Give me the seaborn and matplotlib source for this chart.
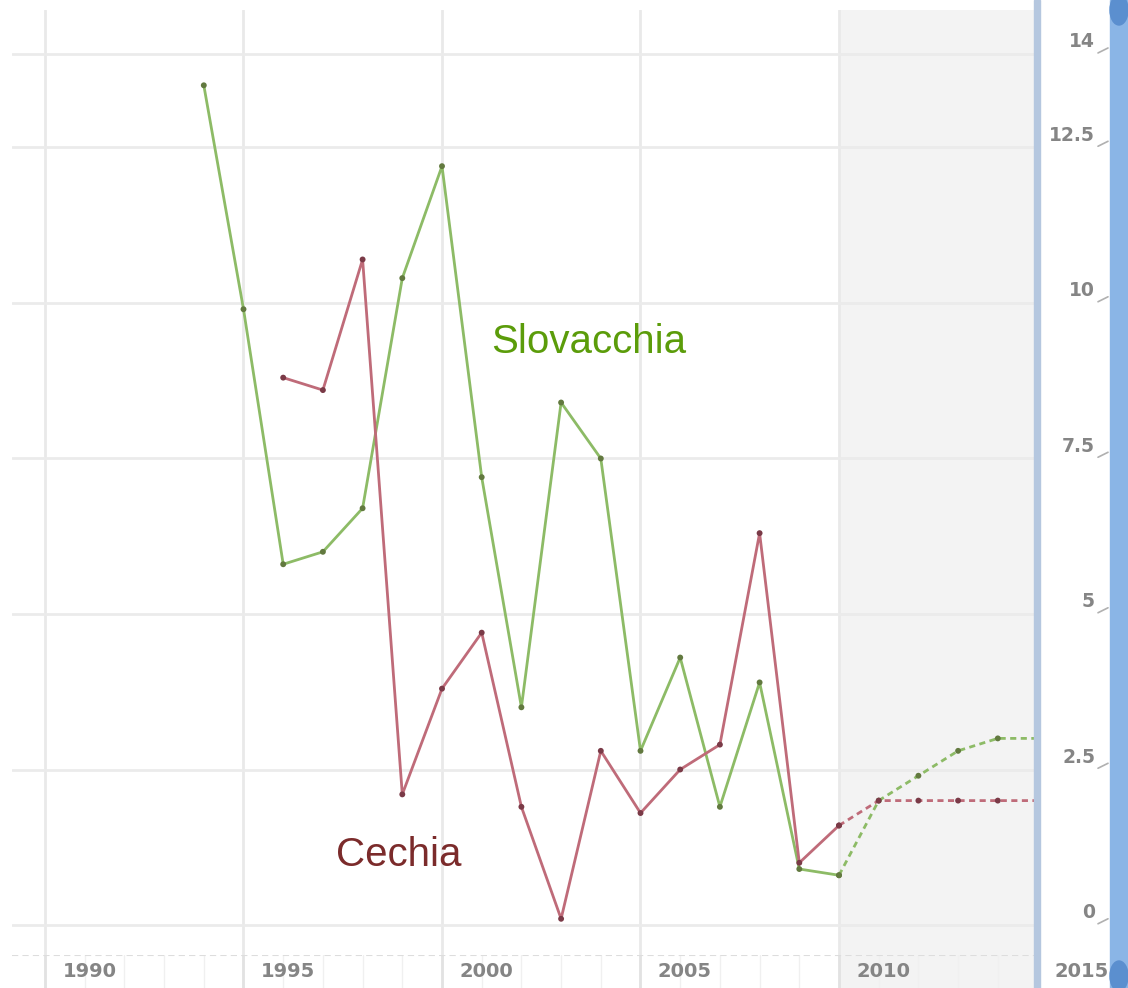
import numpy as np
import pandas as pd
import matplotlib
matplotlib.use("Agg")
from matplotlib import pyplot as plt
from matplotlib.patches import Rectangle, Ellipse
import matplotlib.transforms as mtransforms
import seaborn as sns

# data (annual values, %)
sk_years = list(range(1994, 2011))
sk_values = [13.5, 9.9, 5.8, 6.0, 6.7, 10.4, 12.2, 7.2, 3.5, 8.4, 7.5,
             2.8, 4.3, 1.9, 3.9, 0.9, 0.8]
cz_years = list(range(1996, 2011))
cz_values = [8.8, 8.6, 10.7, 2.1, 3.8, 4.7, 1.9, 0.1, 2.8, 1.8, 2.5,
             2.9, 6.3, 1.0, 1.6]
fc_years = [2010, 2011, 2012, 2013, 2014, 2015]
sk_forecast = [0.8, 2.0, 2.4, 2.8, 3.0, 3.0]
cz_forecast = [1.6, 2.0, 2.0, 2.0, 2.0, 2.0]

x_ticks = [1990, 1995, 2000, 2005, 2010, 2015]
y_ticks = [0, 2.5, 5, 7.5, 10, 12.5, 14]
y_labels = ["0", "2.5", "5", "7.5", "10", "12.5", "14"]


def make_frame():
    rows = []
    for y, v in zip(sk_years, sk_values):
        rows.append((y, v, "Slovacchia", "actual"))
    for y, v in zip(cz_years, cz_values):
        rows.append((y, v, "Cechia", "actual"))
    for y, v in zip(fc_years, sk_forecast):
        rows.append((y, v, "Slovacchia", "forecast"))
    for y, v in zip(fc_years, cz_forecast):
        rows.append((y, v, "Cechia", "forecast"))
    return pd.DataFrame(rows, columns=["year", "value", "country", "kind"])


if __name__ == "__main__":
    sns.set_theme(style="white")
    plt.rcParams["font.family"] = ["Liberation Sans", "DejaVu Sans"]

    df = make_frame()
    line_pal = {"Slovacchia": "#8dbb66", "Cechia": "#bf6b79"}
    dot_pal = {"Slovacchia": "#62793f", "Cechia": "#7a3a47"}

    W, H = 1128, 988
    fig = plt.figure(figsize=(W / 100, H / 100), dpi=100)
    left, right, top, bot = 12, 1035, 10, 955
    ax = fig.add_axes([left / W, (H - bot) / H, (right - left) / W, (bot - top) / H])
    axb = fig.add_axes([left / W, 0, (right - left) / W, (H - bot) / H], sharex=ax)

    # px -> data: x = 45 + (year-1990)*39.7 ; y = 925 - v*62.2
    px_year, px_val = 39.7, 62.2
    x0 = 1990 + (left - 45) / px_year
    x1 = 1990 + (right - 45) / px_year
    ax.set_xlim(x0, x1)
    ax.set_ylim((925 - bot) / px_val, (925 - top) / px_val)

    # forecast shading
    for a in (ax, axb):
        a.axvspan(2010, 2015, color="#f3f3f3", zorder=0, lw=0)

    # grid
    for xt in x_ticks[:-1]:
        ax.axvline(xt, color="#e9e9e9", lw=2, zorder=1)
    for yt in y_ticks:
        ax.axhline(yt, color="#ebebeb", lw=2, zorder=1)

    sns.lineplot(data=df, x="year", y="value", hue="country", style="kind",
                 palette=line_pal, dashes={"actual": "", "forecast": (2.2, 1.6)},
                 lw=2, ax=ax, legend=False, zorder=3, estimator=None,
                 sort=True)
    sns.scatterplot(data=df, x="year", y="value", hue="country",
                    palette=dot_pal, s=18, edgecolor="none", ax=ax,
                    legend=False, zorder=4)

    ax.text(2003.70, 9.37, "Slovacchia", color="#5b9c0a", fontsize=29,
            ha="center", va="center")
    ax.text(1998.92, 1.12, "Cechia", color="#7b2b2b", fontsize=29,
            ha="center", va="center")

    ax.set_xlabel("")
    ax.set_ylabel("")
    ax.set_xticks([])
    ax.set_yticks([])
    for s in ax.spines.values():
        s.set_visible(False)

    # y labels on the right side
    trans = mtransforms.blended_transform_factory(ax.transAxes, ax.transData)
    xr = (1095 - left) / (right - left)
    for yt, lab in zip(y_ticks, y_labels):
        ax.text(xr, yt + 0.2, lab, transform=trans, ha="right", va="center",
                fontsize=13.5, color="#858585", fontweight="bold",
                family="DejaVu Sans", clip_on=False)
        ax.plot([(1098 - left) / (right - left), (1108 - left) / (right - left)],
                [yt + 0.02, yt + 0.1], transform=trans, color="#b0b0b0",
                lw=1.2, clip_on=False)

    # bottom strip with year ticks
    axb.set_ylim(0, 1)
    for yr in range(1989, 2016):
        axb.axvline(yr, color="#f0f0f0", lw=1, zorder=1)
    for xt in x_ticks[:-1]:
        axb.axvline(xt, color="#e2e2e2", lw=2, zorder=1)
    axb.axhline(1, color="#dddddd", lw=1.5, ls=(0, (3, 2)))
    for xt in x_ticks:
        axb.text(xt + 1.12, 0.5, str(xt), ha="center", va="center",
                 fontsize=14, color="#858585", fontweight="bold",
                 family="DejaVu Sans", clip_on=False)
    axb.set_xticks([])
    axb.set_yticks([])
    axb.set_xlabel("")
    for s in axb.spines.values():
        s.set_visible(False)

    # right-hand frame decoration
    fig.patches.append(Rectangle((1034 / W, 0), 6 / W, 1, transform=fig.transFigure,
                                 color="#b5c7df", zorder=5))
    fig.patches.append(Rectangle((1110 / W, 0), 18 / W, 1, transform=fig.transFigure,
                                 color="#8ab5e6", zorder=6))
    fig.patches.append(Ellipse((1119 / W, 12 / H), 18 / W, 30 / H,
                               transform=fig.transFigure, color="#5b8fcf", zorder=7))
    fig.patches.append(Ellipse((1119 / W, 978 / H), 18 / W, 30 / H,
                               transform=fig.transFigure, color="#5b8fcf", zorder=7))

    plt.savefig("out.png", dpi=100)
